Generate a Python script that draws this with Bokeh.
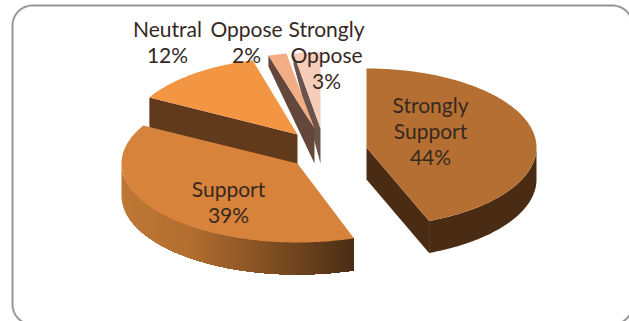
import math
from bokeh.embed import file_html
from bokeh.models import ColumnDataSource, Range1d
from bokeh.plotting import figure
from bokeh.resources import INLINE
from bokeh.core.properties import value

# Survey responses, in clockwise order from twelve o'clock
categories = ["Strongly\nSupport", "Support", "Neutral", "Oppose", "Strongly\nOppose"]
shares = [44, 39, 12, 2, 3]

# Slice styling
top_colors = ["#b56f33", "#d8833c", "#f39644", "#f2ad85", "#f6cdb8"]
side_colors = ["#4a2b14", "#613a1c", "#613a1c", "#64473a", "#69534a"]

# Exploded layout of each slice on the page
apex_x = [366, 297, 297, 314, 320]
apex_y = [147, 163, 134, 128, 128]
radius_x = [170, 176, 169, 165, 165]
radius_y = [79, 79, 77, 76, 76]
depth = [32, 32, 32, 35, 35]
rim_depth = [32, 32, 31, 11, 11]
start_nudge = [0, 2.9, 0, 1.8, 1.4]
end_nudge = [0, 0, 2.6, 1.0, 0]

# Label placement: centre and the vertical middle of the last line
label_x = [430, 228, 167, 246, 326]
label_mid = [156, 214, 54, 54, 80]
line_pitch = 26
label_size = "21px"

# Shading stops across the front wall of the Support slice
wall_stop_x = [122, 190, 353]
wall_stop_rgb = [(190, 119, 53), (178, 110, 48), (75, 45, 20)]
wall_strip = 3


def ellipse_point(i, deg, drop=0):
    t = math.radians(deg)
    return (apex_x[i] + radius_x[i] * math.sin(t),
            apex_y[i] - radius_y[i] * math.cos(t) + drop)


def wall_color(x):
    if x <= wall_stop_x[0]:
        rgb = wall_stop_rgb[0]
    elif x >= wall_stop_x[-1]:
        rgb = wall_stop_rgb[-1]
    else:
        k = 0 if x < wall_stop_x[1] else 1
        f = (x - wall_stop_x[k]) / (wall_stop_x[k + 1] - wall_stop_x[k])
        rgb = [a + (b - a) * f for a, b in zip(wall_stop_rgb[k], wall_stop_rgb[k + 1])]
    return "#%02x%02x%02x" % tuple(int(round(c)) for c in rgb)


p = figure(width=629, height=321, output_backend="svg", toolbar_location=None,
           x_range=Range1d(0, 629), y_range=Range1d(321, 0),
           min_border=0, outline_line_color=None, background_fill_color="white",
           border_fill_color="white")
p.axis.visible = False
p.grid.visible = False

# Rounded chart frame that runs slightly past the page on the right and bottom
left, top, right, bottom, r = 12, 5, 632, 324, 20
frame_x, frame_y = [], []
for cx, cy, a0 in [(right - r, top + r, 0), (right - r, bottom - r, 90),
                   (left + r, bottom - r, 180), (left + r, top + r, 270)]:
    for step in range(13):
        a = math.radians(a0 + step * 7.5)
        frame_x.append(cx + r * math.sin(a))
        frame_y.append(cy - r * math.cos(a))
frame_x.append(frame_x[0])
frame_y.append(frame_y[0])
p.line(frame_x, frame_y, line_color="#d8d8d8", line_width=2.6)
p.line(frame_x, frame_y, line_color="#8f8f8f", line_width=1.4)

# Cumulative angles from the shares
total = sum(shares)
edges = [0]
for s in shares:
    edges.append(edges[-1] + s / total * 360)

# Back slices are painted first so nearer ones overlap them
for i in reversed(range(len(shares))):
    a0 = edges[i] + start_nudge[i]
    a1 = edges[i + 1] + end_nudge[i]
    d = depth[i]
    ax, ay = apex_x[i], apex_y[i]

    # Cut faces, visible where the slice was pulled away from the pie
    cut = {0: a1, 1: None}.get(i, a0)
    if cut is not None:
        ex, ey = ellipse_point(i, cut)
        p.patch([ax, ex, ex, ax], [ay, ey, ey + rim_depth[i], ay + d],
                fill_color=side_colors[i], line_color=None)

    # Outer wall on the part of the rim that faces the viewer
    lo, hi = max(a0, 90), min(a1, 270)
    if hi > lo:
        steps = int(hi - lo) * 2
        rim = [ellipse_point(i, lo + (hi - lo) * k / steps) for k in range(steps + 1)]
        wx = [q[0] for q in rim]
        wy = [q[1] for q in rim]
        outline_x = wx + wx[::-1]
        outline_y = wy + [y + d for y in wy[::-1]]
        if i != 1:
            p.patch(outline_x, outline_y, fill_color=side_colors[i], line_color=None)
        else:
            # Graded wall: each strip reaches from its own left edge to the wall's
            # right end, and later strips paint over the remainder, so no seams show
            x_min, x_max = min(wx), max(wx)
            ordered = sorted(zip(wx, wy))
            xs, ys, colors = [], [], []
            x_pos = x_min
            while x_pos < x_max:
                keep = [(x, y) for x, y in ordered if x >= x_pos]
                px = [x_pos] + [q[0] for q in keep]
                first = min(ordered, key=lambda q: abs(q[0] - x_pos))[1]
                py = [first] + [q[1] for q in keep]
                xs.append(px + px[::-1])
                ys.append(py + [y + d for y in py[::-1]])
                colors.append(wall_color(x_pos + wall_strip / 2))
                x_pos += wall_strip
            src = ColumnDataSource(dict(xs=xs, ys=ys, color=colors))
            p.patches("xs", "ys", source=src, fill_color="color", line_color=None)

    # Top face
    steps = max(4, int(a1 - a0))
    rim = [ellipse_point(i, a0 + (a1 - a0) * k / steps) for k in range(steps + 1)]
    p.patch([ax] + [q[0] for q in rim], [ay] + [q[1] for q in rim],
            fill_color=top_colors[i], line_color=None)

# Category and share labels
text_x, text_y, text_s = [], [], []
for i, (name, s) in enumerate(zip(categories, shares)):
    lines = name.split("\n") + [f"{s}%"]
    for j, line in enumerate(lines):
        text_x.append(label_x[i])
        text_y.append(label_mid[i] - line_pitch * (len(lines) - 1 - j))
        text_s.append(line)
p.text(text_x, text_y, text=text_s, text_align="center", text_baseline="middle",
       text_font=value("Lato"), text_font_size=label_size, text_color="#35291f")

open("out.html", "w").write(file_html(p, INLINE))
